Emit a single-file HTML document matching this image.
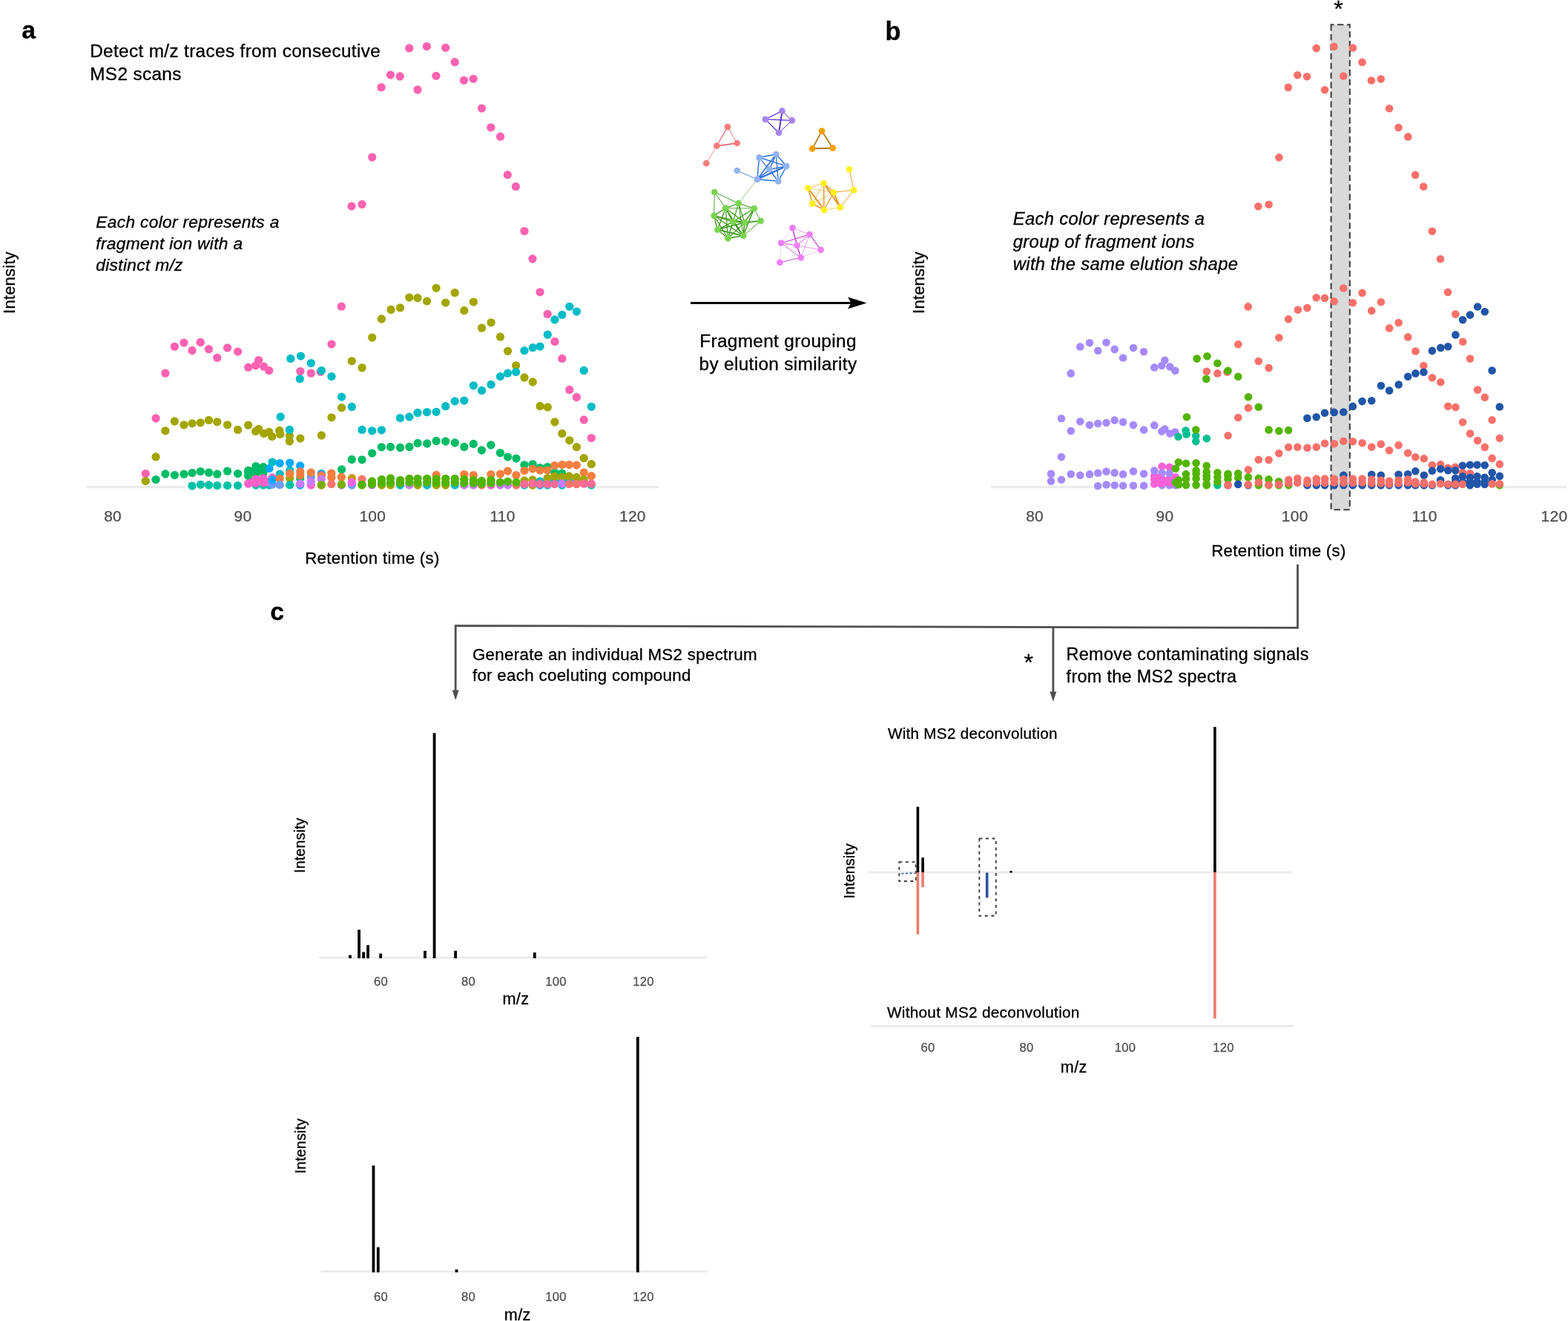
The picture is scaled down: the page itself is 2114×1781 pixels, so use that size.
<!DOCTYPE html>
<html lang="en"><head><meta charset="utf-8"><title>MS2 deconvolution workflow</title>
<style>
html,body{margin:0;padding:0;background:#fff}
body{width:2114px;height:1781px;overflow:hidden}
svg{display:block;font-family:"Liberation Sans",sans-serif}
text{stroke:#000;stroke-width:.32px}
text.t{fill:#4D4D4D;stroke:#4D4D4D;stroke-width:.25px}
</style></head>
<body>
<svg width="2114" height="1781" viewBox="0 0 2114 1781">
<rect width="2114" height="1781" fill="#fff"/>
<g id="panel-a">
<path d="M116 656.7H250M803 656.7H888" stroke="#EBEBEB" stroke-width="3.3" fill="none"/>
<g fill="#FB62B1"><circle cx="196.3" cy="638.6" r="5.65"/><circle cx="210.1" cy="564" r="5.65"/><circle cx="222.9" cy="503.2" r="5.65"/><circle cx="235.4" cy="467.3" r="5.65"/><circle cx="248" cy="462.1" r="5.65"/><circle cx="259.1" cy="472.5" r="5.65"/><circle cx="270.3" cy="461.5" r="5.65"/><circle cx="281.5" cy="470.7" r="5.65"/><circle cx="292.8" cy="482.3" r="5.65"/><circle cx="306.6" cy="468.9" r="5.65"/><circle cx="320.6" cy="474.1" r="5.65"/><circle cx="334.7" cy="495.2" r="5.65"/><circle cx="344.7" cy="492.8" r="5.65"/><circle cx="348.7" cy="485.6" r="5.65"/><circle cx="355.7" cy="494.2" r="5.65"/><circle cx="362.7" cy="499.6" r="5.65"/><circle cx="404.9" cy="500.6" r="5.65"/><circle cx="419.3" cy="503.2" r="5.65"/><circle cx="432.3" cy="501.2" r="5.65"/><circle cx="447" cy="464.1" r="5.65"/><circle cx="460.3" cy="413.2" r="5.65"/><circle cx="474" cy="278.1" r="5.65"/><circle cx="488.1" cy="275.5" r="5.65"/><circle cx="501.8" cy="212" r="5.65"/><circle cx="514.1" cy="117.7" r="5.65"/><circle cx="526.5" cy="101" r="5.65"/><circle cx="539.2" cy="103" r="5.65"/><circle cx="551.8" cy="64.9" r="5.65"/><circle cx="563" cy="121" r="5.65"/><circle cx="575.4" cy="62.6" r="5.65"/><circle cx="588" cy="102.3" r="5.65"/><circle cx="600.7" cy="64.3" r="5.65"/><circle cx="613.2" cy="83.7" r="5.65"/><circle cx="625.5" cy="108.3" r="5.65"/><circle cx="638.2" cy="106.3" r="5.65"/><circle cx="649.5" cy="146.1" r="5.65"/><circle cx="661.9" cy="171.8" r="5.65"/><circle cx="674.6" cy="184.2" r="5.65"/><circle cx="684.3" cy="235.7" r="5.65"/><circle cx="695.4" cy="251.4" r="5.65"/><circle cx="707" cy="311.6" r="5.65"/><circle cx="718" cy="349" r="5.65"/><circle cx="728" cy="393.8" r="5.65"/><circle cx="738.2" cy="423.4" r="5.65"/><circle cx="748" cy="460.5" r="5.65"/><circle cx="757.8" cy="483.4" r="5.65"/><circle cx="767.8" cy="525.4" r="5.65"/><circle cx="777.4" cy="535.5" r="5.65"/><circle cx="787.2" cy="566" r="5.65"/><circle cx="797.3" cy="590.6" r="5.65"/></g><g fill="#A3A500"><circle cx="196.3" cy="648.6" r="5.65"/><circle cx="210.1" cy="615.9" r="5.65"/><circle cx="222.9" cy="580.8" r="5.65"/><circle cx="235.4" cy="568" r="5.65"/><circle cx="248" cy="572.8" r="5.65"/><circle cx="259.1" cy="570.8" r="5.65"/><circle cx="270.3" cy="569.8" r="5.65"/><circle cx="281.5" cy="566.4" r="5.65"/><circle cx="292.8" cy="568.8" r="5.65"/><circle cx="306.6" cy="572.8" r="5.65"/><circle cx="320.6" cy="579.4" r="5.65"/><circle cx="334.7" cy="573.2" r="5.65"/><circle cx="344.7" cy="581.4" r="5.65"/><circle cx="348.7" cy="578.4" r="5.65"/><circle cx="355.7" cy="584.4" r="5.65"/><circle cx="362.7" cy="582.4" r="5.65"/><circle cx="366.8" cy="588.5" r="5.65"/><circle cx="376.8" cy="580.4" r="5.65"/><circle cx="377.8" cy="585.4" r="5.65"/><circle cx="390.4" cy="587.4" r="5.65"/><circle cx="390.4" cy="594.9" r="5.65"/><circle cx="404.9" cy="591.1" r="5.65"/><circle cx="433.4" cy="587" r="5.65"/><circle cx="447" cy="562.8" r="5.65"/><circle cx="460.6" cy="549.7" r="5.65"/><circle cx="474.3" cy="486.8" r="5.65"/><circle cx="488.1" cy="495.8" r="5.65"/><circle cx="501.7" cy="455.1" r="5.65"/><circle cx="514.4" cy="430" r="5.65"/><circle cx="527.1" cy="417.5" r="5.65"/><circle cx="539.5" cy="414.9" r="5.65"/><circle cx="551.8" cy="401.1" r="5.65"/><circle cx="563" cy="401.7" r="5.65"/><circle cx="575.6" cy="406.1" r="5.65"/><circle cx="588.1" cy="388.3" r="5.65"/><circle cx="600.7" cy="408.1" r="5.65"/><circle cx="613.2" cy="394.7" r="5.65"/><circle cx="625.8" cy="418.7" r="5.65"/><circle cx="638.4" cy="407.1" r="5.65"/><circle cx="649.5" cy="442.2" r="5.65"/><circle cx="662.1" cy="434.8" r="5.65"/><circle cx="674.5" cy="454.2" r="5.65"/><circle cx="684.6" cy="473.3" r="5.65"/><circle cx="695.6" cy="492.8" r="5.65"/><circle cx="707" cy="509" r="5.65"/><circle cx="718.3" cy="515" r="5.65"/><circle cx="728.1" cy="547.5" r="5.65"/><circle cx="738.3" cy="548.9" r="5.65"/><circle cx="747.9" cy="569" r="5.65"/><circle cx="757.8" cy="584.4" r="5.65"/><circle cx="767.8" cy="593.8" r="5.65"/><circle cx="777.4" cy="602.7" r="5.65"/><circle cx="787.2" cy="617.7" r="5.65"/><circle cx="797.3" cy="625.7" r="5.65"/></g><g fill="#00BC66"><circle cx="210.1" cy="646.6" r="5.65"/><circle cx="222.9" cy="639" r="5.65"/><circle cx="235.4" cy="640.6" r="5.65"/><circle cx="248" cy="639.2" r="5.65"/><circle cx="259.1" cy="637.6" r="5.65"/><circle cx="270.3" cy="635.6" r="5.65"/><circle cx="281.5" cy="637.2" r="5.65"/><circle cx="292.8" cy="639.2" r="5.65"/><circle cx="306.6" cy="635.2" r="5.65"/><circle cx="320.6" cy="638.6" r="5.65"/><circle cx="460.6" cy="633" r="5.65"/><circle cx="474.3" cy="619.5" r="5.65"/><circle cx="488.1" cy="619.8" r="5.65"/><circle cx="501.7" cy="611.1" r="5.65"/><circle cx="514.4" cy="602.8" r="5.65"/><circle cx="526.5" cy="602.5" r="5.65"/><circle cx="539.6" cy="603.5" r="5.65"/><circle cx="551.9" cy="602.5" r="5.65"/><circle cx="563.1" cy="597.5" r="5.65"/><circle cx="575.7" cy="598" r="5.65"/><circle cx="588.2" cy="594.5" r="5.65"/><circle cx="600.7" cy="595" r="5.65"/><circle cx="613.3" cy="597" r="5.65"/><circle cx="625.8" cy="602.5" r="5.65"/><circle cx="638.3" cy="598.5" r="5.65"/><circle cx="649.4" cy="607" r="5.65"/><circle cx="661.9" cy="600" r="5.65"/><circle cx="674.4" cy="610.6" r="5.65"/><circle cx="684.5" cy="616.1" r="5.65"/><circle cx="696" cy="618.1" r="5.65"/><circle cx="707" cy="626.8" r="5.65"/><circle cx="718.1" cy="625.8" r="5.65"/><circle cx="728.1" cy="630.6" r="5.65"/><circle cx="738.1" cy="629.6" r="5.65"/></g><g fill="#00BCC6"><circle cx="378.2" cy="562" r="5.65"/><circle cx="390.4" cy="579.4" r="5.65"/><circle cx="404.3" cy="510.8" r="5.65"/><circle cx="391.8" cy="483.4" r="5.65"/><circle cx="405.5" cy="480.1" r="5.65"/><circle cx="419.3" cy="489.6" r="5.65"/><circle cx="433.4" cy="499.6" r="5.65"/><circle cx="447" cy="507.6" r="5.65"/><circle cx="460.6" cy="535.1" r="5.65"/><circle cx="474.3" cy="548.5" r="5.65"/><circle cx="488.1" cy="579.4" r="5.65"/><circle cx="501.7" cy="580.8" r="5.65"/><circle cx="514.4" cy="579.8" r="5.65"/><circle cx="539.5" cy="563.6" r="5.65"/><circle cx="551.8" cy="562" r="5.65"/><circle cx="563" cy="556.5" r="5.65"/><circle cx="575.6" cy="555.7" r="5.65"/><circle cx="588.1" cy="555.3" r="5.65"/><circle cx="600.7" cy="547.7" r="5.65"/><circle cx="613.2" cy="540.9" r="5.65"/><circle cx="625.8" cy="540.1" r="5.65"/><circle cx="638.4" cy="519.8" r="5.65"/><circle cx="649.5" cy="526.4" r="5.65"/><circle cx="662.1" cy="518.4" r="5.65"/><circle cx="674.5" cy="507.6" r="5.65"/><circle cx="684.6" cy="503.2" r="5.65"/><circle cx="695.6" cy="501.6" r="5.65"/><circle cx="707" cy="472.7" r="5.65"/><circle cx="718.3" cy="468.7" r="5.65"/><circle cx="728.1" cy="467.1" r="5.65"/><circle cx="738.3" cy="451.2" r="5.65"/><circle cx="747.9" cy="431" r="5.65"/><circle cx="757.8" cy="424.4" r="5.65"/><circle cx="767.8" cy="413.3" r="5.65"/><circle cx="777.4" cy="420.1" r="5.65"/><circle cx="787.2" cy="499.4" r="5.65"/><circle cx="797.3" cy="548.3" r="5.65"/></g><g fill="#00C1A7"><circle cx="259" cy="655.1" r="5.65"/><circle cx="270.4" cy="653.3" r="5.65"/><circle cx="281.5" cy="654" r="5.65"/><circle cx="292.8" cy="654.6" r="5.65"/><circle cx="306.6" cy="654.6" r="5.65"/><circle cx="320.6" cy="654.6" r="5.65"/></g><g fill="#00BC66"><circle cx="334.7" cy="641.5" r="5.65"/><circle cx="334.7" cy="634.3" r="5.65"/><circle cx="334.7" cy="638" r="5.65"/></g><g fill="#FF61C9"><circle cx="334.7" cy="652.2" r="5.65"/></g><g fill="#00C1A7"><circle cx="345" cy="654" r="5.65"/></g><g fill="#00BC66"><circle cx="345" cy="638" r="5.65"/><circle cx="345" cy="633.5" r="5.65"/><circle cx="345" cy="628.6" r="5.65"/><circle cx="340" cy="635.5" r="5.65"/><circle cx="350" cy="634" r="5.65"/></g><g fill="#FF61C9"><circle cx="345" cy="651.5" r="5.65"/><circle cx="345" cy="646" r="5.65"/></g><g fill="#00C1A7"><circle cx="355" cy="654" r="5.65"/></g><g fill="#00BC66"><circle cx="355" cy="629.6" r="5.65"/><circle cx="355" cy="634" r="5.65"/><circle cx="355" cy="638" r="5.65"/></g><g fill="#FF61C9"><circle cx="355" cy="650.5" r="5.65"/><circle cx="355" cy="645" r="5.65"/></g><g fill="#00C1A7"><circle cx="363.1" cy="654" r="5.65"/></g><g fill="#FF61C9"><circle cx="340" cy="650" r="5.65"/><circle cx="350" cy="648" r="5.65"/><circle cx="359" cy="650" r="5.65"/><circle cx="363.1" cy="649.5" r="5.65"/></g><g fill="#06A8FF"><circle cx="363.1" cy="631.6" r="5.65"/></g><g fill="#00BCC6"><circle cx="367.1" cy="623.1" r="5.65"/></g><g fill="#FF61C9"><circle cx="367.1" cy="644" r="5.65"/></g><g fill="#6B9CFF"><circle cx="367.1" cy="653.2" r="5.65"/></g><g fill="#06A8FF"><circle cx="367.1" cy="647" r="5.65"/></g><g fill="#00BCC6"><circle cx="377.2" cy="639.1" r="5.65"/></g><g fill="#06A8FF"><circle cx="377.2" cy="624.6" r="5.65"/></g><g fill="#F37F40"><circle cx="377.2" cy="645.5" r="5.65"/></g><g fill="#6B9CFF"><circle cx="377.2" cy="653.7" r="5.65"/></g><g fill="#06A8FF"><circle cx="390.7" cy="624.1" r="5.65"/></g><g fill="#00BCC6"><circle cx="390.7" cy="634.1" r="5.65"/></g><g fill="#A3A500"><circle cx="390.7" cy="645" r="5.65"/></g><g fill="#F37F40"><circle cx="390.7" cy="638.5" r="5.65"/></g><g fill="#00C1A7"><circle cx="390.7" cy="653.7" r="5.65"/></g><g fill="#06A8FF"><circle cx="404.7" cy="654" r="5.65"/><circle cx="404.7" cy="627.9" r="5.65"/></g><g fill="#00BC66"><circle cx="404.7" cy="645" r="5.65"/></g><g fill="#F37F40"><circle cx="404.7" cy="641" r="5.65"/><circle cx="404.7" cy="636" r="5.65"/></g><g fill="#C77CFF"><circle cx="404.7" cy="652.2" r="5.65"/></g><g fill="#FF61C9"><circle cx="419.3" cy="654" r="5.65"/></g><g fill="#6B9CFF"><circle cx="419.3" cy="643" r="5.65"/></g><g fill="#F37F40"><circle cx="419.3" cy="637.1" r="5.65"/></g><g fill="#C77CFF"><circle cx="419.3" cy="649.2" r="5.65"/></g><g fill="#F37F40"><circle cx="433.3" cy="654" r="5.65"/></g><g fill="#06A8FF"><circle cx="433.3" cy="638.6" r="5.65"/></g><g fill="#F37F40"><circle cx="433.3" cy="641" r="5.65"/></g><g fill="#C77CFF"><circle cx="433.3" cy="646" r="5.65"/></g><g fill="#7CAE00"><circle cx="433.3" cy="653.7" r="5.65"/></g><g fill="#F37F40"><circle cx="446.9" cy="638.1" r="5.65"/><circle cx="446.9" cy="644" r="5.65"/></g><g fill="#F8766D"><circle cx="446.9" cy="652.7" r="5.65"/></g><g fill="#C77CFF"><circle cx="460.4" cy="654" r="5.65"/></g><g fill="#F37F40"><circle cx="460.4" cy="643.2" r="5.65"/></g><g fill="#7CAE00"><circle cx="460.4" cy="653.2" r="5.65"/></g><g fill="#6B9CFF"><circle cx="474.4" cy="654" r="5.65"/></g><g fill="#C99800"><circle cx="474.4" cy="644.7" r="5.65"/></g><g fill="#F564E3"><circle cx="474.4" cy="650.2" r="5.65"/></g><g fill="#A3A500"><circle cx="488" cy="654" r="5.65"/></g><g fill="#F8766D"><circle cx="488" cy="646.2" r="5.65"/></g><g fill="#53B400"><circle cx="488" cy="653.5" r="5.65"/></g><g fill="#C77CFF"><circle cx="501.5" cy="654" r="5.65"/></g><g fill="#53B400"><circle cx="501.5" cy="649" r="5.65"/><circle cx="501.5" cy="652.8" r="5.65"/></g><g fill="#A3A500"><circle cx="514.6" cy="654" r="5.65"/></g><g fill="#53B400"><circle cx="514.6" cy="646.5" r="5.65"/><circle cx="514.6" cy="651.3" r="5.65"/></g><g fill="#A3A500"><circle cx="526.5" cy="654" r="5.65"/></g><g fill="#53B400"><circle cx="526.5" cy="644.8" r="5.65"/><circle cx="526.5" cy="650.8" r="5.65"/></g><g fill="#00BCC6"><circle cx="539.6" cy="654" r="5.65"/></g><g fill="#53B400"><circle cx="539.6" cy="647.3" r="5.65"/><circle cx="539.6" cy="651.3" r="5.65"/></g><g fill="#C77CFF"><circle cx="551.9" cy="654" r="5.65"/></g><g fill="#53B400"><circle cx="551.9" cy="645.3" r="5.65"/><circle cx="551.9" cy="650.3" r="5.65"/></g><g fill="#A3A500"><circle cx="563.1" cy="654" r="5.65"/></g><g fill="#53B400"><circle cx="563.1" cy="645.3" r="5.65"/><circle cx="563.1" cy="650.8" r="5.65"/></g><g fill="#00BCC6"><circle cx="575.7" cy="654" r="5.65"/></g><g fill="#53B400"><circle cx="575.7" cy="645.3" r="5.65"/><circle cx="575.7" cy="650.3" r="5.65"/></g><g fill="#A3A500"><circle cx="588.2" cy="654" r="5.65"/></g><g fill="#F37F40"><circle cx="588.2" cy="640.5" r="5.65"/></g><g fill="#53B400"><circle cx="588.2" cy="645.8" r="5.65"/><circle cx="588.2" cy="650.8" r="5.65"/></g><g fill="#A3A500"><circle cx="600.7" cy="654" r="5.65"/></g><g fill="#53B400"><circle cx="600.7" cy="645.3" r="5.65"/><circle cx="600.7" cy="650.8" r="5.65"/></g><g fill="#00BCC6"><circle cx="613.3" cy="654" r="5.65"/></g><g fill="#53B400"><circle cx="613.3" cy="645.3" r="5.65"/><circle cx="613.3" cy="650.3" r="5.65"/></g><g fill="#C77CFF"><circle cx="625.8" cy="654" r="5.65"/></g><g fill="#F37F40"><circle cx="625.8" cy="639.6" r="5.65"/></g><g fill="#53B400"><circle cx="625.8" cy="646.3" r="5.65"/><circle cx="625.8" cy="651.3" r="5.65"/></g><g fill="#C77CFF"><circle cx="638.3" cy="654" r="5.65"/></g><g fill="#F37F40"><circle cx="638.3" cy="640.6" r="5.65"/></g><g fill="#53B400"><circle cx="638.3" cy="647.3" r="5.65"/><circle cx="638.3" cy="651.3" r="5.65"/></g><g fill="#F8766D"><circle cx="649.4" cy="654" r="5.65"/></g><g fill="#53B400"><circle cx="649.4" cy="648.3" r="5.65"/><circle cx="649.4" cy="652.3" r="5.65"/></g><g fill="#FF61C9"><circle cx="661.9" cy="654" r="5.65"/></g><g fill="#F37F40"><circle cx="661.9" cy="639.6" r="5.65"/></g><g fill="#53B400"><circle cx="661.9" cy="647.3" r="5.65"/><circle cx="661.9" cy="651.3" r="5.65"/></g><g fill="#C77CFF"><circle cx="674.4" cy="654" r="5.65"/></g><g fill="#F37F40"><circle cx="674.4" cy="639.1" r="5.65"/></g><g fill="#53B400"><circle cx="674.4" cy="650.3" r="5.65"/></g><g fill="#C77CFF"><circle cx="684.5" cy="654" r="5.65"/></g><g fill="#F37F40"><circle cx="684.5" cy="635.1" r="5.65"/></g><g fill="#53B400"><circle cx="684.5" cy="649.3" r="5.65"/></g><g fill="#F8766D"><circle cx="696" cy="654" r="5.65"/></g><g fill="#F37F40"><circle cx="696" cy="640.6" r="5.65"/></g><g fill="#53B400"><circle cx="696" cy="650.3" r="5.65"/></g><g fill="#00BCC6"><circle cx="707" cy="654" r="5.65"/></g><g fill="#F37F40"><circle cx="707" cy="634.6" r="5.65"/></g><g fill="#A3A500"><circle cx="707" cy="648" r="5.65"/></g><g fill="#FF6A98"><circle cx="707" cy="652.7" r="5.65"/></g><g fill="#A3A500"><circle cx="718.1" cy="654" r="5.65"/></g><g fill="#F37F40"><circle cx="718.1" cy="632.1" r="5.65"/></g><g fill="#A3A500"><circle cx="718.1" cy="647" r="5.65"/></g><g fill="#FF6A98"><circle cx="718.1" cy="652" r="5.65"/></g><g fill="#06A8FF"><circle cx="728.1" cy="654" r="5.65"/></g><g fill="#F37F40"><circle cx="728.1" cy="634.1" r="5.65"/></g><g fill="#00BCC6"><circle cx="728.1" cy="649" r="5.65"/></g><g fill="#FF6A98"><circle cx="728.1" cy="652.5" r="5.65"/></g><g fill="#00BCC6"><circle cx="738.1" cy="654" r="5.65"/></g><g fill="#F37F40"><circle cx="738.1" cy="634.1" r="5.65"/></g><g fill="#00BCC6"><circle cx="738.1" cy="649.5" r="5.65"/></g><g fill="#A3A500"><circle cx="738.1" cy="644.7" r="5.65"/></g><g fill="#FF6A98"><circle cx="738.1" cy="652.7" r="5.65"/></g><g fill="#00BC66"><circle cx="747.7" cy="637.1" r="5.65"/></g><g fill="#F37F40"><circle cx="747.7" cy="627.6" r="5.65"/></g><g fill="#00BCC6"><circle cx="747.7" cy="649.5" r="5.65"/></g><g fill="#A3A500"><circle cx="747.7" cy="642.2" r="5.65"/></g><g fill="#FF6A98"><circle cx="747.7" cy="652.7" r="5.65"/></g><g fill="#00BCC6"><circle cx="757.7" cy="654" r="5.65"/></g><g fill="#00BC66"><circle cx="757.7" cy="638.1" r="5.65"/></g><g fill="#F37F40"><circle cx="757.7" cy="626.6" r="5.65"/></g><g fill="#00BCC6"><circle cx="757.7" cy="649.5" r="5.65"/></g><g fill="#A3A500"><circle cx="757.7" cy="643.5" r="5.65"/></g><g fill="#C77CFF"><circle cx="757.7" cy="652" r="5.65"/></g><g fill="#F37F40"><circle cx="767.2" cy="626.6" r="5.65"/></g><g fill="#00BCC6"><circle cx="767.2" cy="649.5" r="5.65"/></g><g fill="#A3A500"><circle cx="767.2" cy="642" r="5.65"/></g><g fill="#F8766D"><circle cx="767.2" cy="652.5" r="5.65"/></g><g fill="#F37F40"><circle cx="777.3" cy="627.1" r="5.65"/></g><g fill="#C77CFF"><circle cx="777.3" cy="649.5" r="5.65"/></g><g fill="#A3A500"><circle cx="777.3" cy="643.5" r="5.65"/></g><g fill="#F8766D"><circle cx="777.3" cy="652.7" r="5.65"/></g><g fill="#F37F40"><circle cx="787.3" cy="637.1" r="5.65"/></g><g fill="#A3A500"><circle cx="787.3" cy="646.5" r="5.65"/></g><g fill="#FF6A98"><circle cx="787.3" cy="652.2" r="5.65"/></g><g fill="#00C1A7"><circle cx="797.3" cy="654" r="5.65"/></g><g fill="#F37F40"><circle cx="797.3" cy="641.7" r="5.65"/></g><g fill="#FF6A98"><circle cx="797.3" cy="652.2" r="5.65"/></g>
<text x="29.3" y="51.8" font-size="33.73" font-weight="bold">a</text>
<text x="121.2" y="77.2" font-size="24.38" letter-spacing="0.33">Detect m/z traces from consecutive</text>
<text x="121.2" y="107.7" font-size="24.38" letter-spacing="0.33">MS2 scans</text>
<text x="129.3" y="306.5" font-size="22.77" font-style="italic" letter-spacing="0.30">Each color represents a</text>
<text x="129.3" y="335.6" font-size="22.77" font-style="italic" letter-spacing="0.30">fragment ion with a</text>
<text x="129.3" y="364.7" font-size="22.77" font-style="italic" letter-spacing="0.30">distinct m/z</text>
<text transform="translate(20 381) rotate(-90)" font-size="21.84" text-anchor="middle" letter-spacing="0.29">Intensity</text>
<text x="152.1" y="703.3" font-size="20.96" text-anchor="middle" class="t" letter-spacing="0.28">80</text>
<text x="327.4" y="703.3" font-size="20.96" text-anchor="middle" class="t" letter-spacing="0.28">90</text>
<text x="502.3" y="703.3" font-size="20.96" text-anchor="middle" class="t" letter-spacing="0.28">100</text>
<text x="677.6" y="703.3" font-size="20.96" text-anchor="middle" class="t" letter-spacing="0.28">110</text>
<text x="852.9" y="703.3" font-size="20.96" text-anchor="middle" class="t" letter-spacing="0.28">120</text>
<text x="502" y="759.5" font-size="22.33" text-anchor="middle" letter-spacing="0.30">Retention time (s)</text>
</g>
<g id="network"><line x1="1020.9" y1="241.8" x2="995.7" y2="274.2" stroke="#8DBD6A" stroke-width="0.9"/><g stroke="#E0525E" stroke-linecap="round"><line x1="981.0" y1="171.2" x2="966.3" y2="196.7" stroke-width="1.1"/><line x1="981.0" y1="171.2" x2="993.7" y2="193.0" stroke-width="0.8"/><line x1="966.3" y1="196.7" x2="993.7" y2="193.0" stroke-width="1.6"/><line x1="966.3" y1="196.7" x2="952.2" y2="220.2" stroke-width="0.8" stroke-opacity="0.8"/></g><g fill="#F87C7C"><circle cx="981.0" cy="171.2" r="4.35"/><circle cx="966.3" cy="196.7" r="4.35"/><circle cx="993.7" cy="193.0" r="4.35"/><circle cx="952.2" cy="220.2" r="4.35"/></g><g stroke="#5A30D0" stroke-linecap="round"><line x1="1054.5" y1="149.5" x2="1031.8" y2="160.9" stroke-width="1.3"/><line x1="1054.5" y1="149.5" x2="1067.8" y2="162.4" stroke-width="1.0"/><line x1="1054.5" y1="149.5" x2="1050.1" y2="179.0" stroke-width="1.9"/><line x1="1031.8" y1="160.9" x2="1067.8" y2="162.4" stroke-width="1.2"/><line x1="1031.8" y1="160.9" x2="1050.1" y2="179.0" stroke-width="1.3"/><line x1="1067.8" y1="162.4" x2="1050.1" y2="179.0" stroke-width="1.0"/></g><g fill="#A886F0"><circle cx="1054.5" cy="149.5" r="4.35"/><circle cx="1031.8" cy="160.9" r="4.35"/><circle cx="1067.8" cy="162.4" r="4.35"/><circle cx="1050.1" cy="179.0" r="4.35"/></g><g stroke="#B07A18" stroke-linecap="round"><line x1="1108.0" y1="176.7" x2="1095.3" y2="200.3" stroke-width="1.7"/><line x1="1108.0" y1="176.7" x2="1122.8" y2="199.7" stroke-width="1.7"/><line x1="1095.3" y1="200.3" x2="1122.8" y2="199.7" stroke-width="2.0"/></g><g fill="#F5A008"><circle cx="1108.0" cy="176.7" r="4.35"/><circle cx="1095.3" cy="200.3" r="4.35"/><circle cx="1122.8" cy="199.7" r="4.35"/></g><g stroke="#2F70D8" stroke-linecap="round"><line x1="1023.6" y1="212.3" x2="1046.3" y2="208.0" stroke-width="1.6"/><line x1="1023.6" y1="212.3" x2="1060.3" y2="224.1" stroke-width="1.5"/><line x1="1023.6" y1="212.3" x2="1020.9" y2="241.8" stroke-width="1.5"/><line x1="1023.6" y1="212.3" x2="1049.3" y2="244.3" stroke-width="1.2"/><line x1="1046.3" y1="208.0" x2="1060.3" y2="224.1" stroke-width="1.5"/><line x1="1046.3" y1="208.0" x2="1037.5" y2="228.4" stroke-width="1.5"/><line x1="1046.3" y1="208.0" x2="1020.9" y2="241.8" stroke-width="1.6"/><line x1="1046.3" y1="208.0" x2="1049.3" y2="244.3" stroke-width="1.3"/><line x1="1060.3" y1="224.1" x2="1037.5" y2="228.4" stroke-width="1.5"/><line x1="1060.3" y1="224.1" x2="1020.9" y2="241.8" stroke-width="2.2"/><line x1="1060.3" y1="224.1" x2="1049.3" y2="244.3" stroke-width="1.4"/><line x1="1037.5" y1="228.4" x2="1020.9" y2="241.8" stroke-width="1.5"/><line x1="1037.5" y1="228.4" x2="1049.3" y2="244.3" stroke-width="1.0"/><line x1="1020.9" y1="241.8" x2="1049.3" y2="244.3" stroke-width="1.5"/><line x1="993.7" y1="230.0" x2="1020.9" y2="241.8" stroke-width="0.9" stroke-opacity="0.9"/></g><g fill="#92B4F4"><circle cx="1023.6" cy="212.3" r="4.35"/><circle cx="1046.3" cy="208.0" r="4.35"/><circle cx="1060.3" cy="224.1" r="4.35"/><circle cx="1037.5" cy="228.4" r="4.35"/><circle cx="1020.9" cy="241.8" r="4.35"/><circle cx="1049.3" cy="244.3" r="4.35"/><circle cx="993.7" cy="230.0" r="4.35"/></g><g stroke="#3D9A1E" stroke-linecap="round"><line x1="963.3" y1="259.0" x2="995.7" y2="274.2" stroke-width="1.0"/><line x1="963.3" y1="259.0" x2="978.3" y2="280.6" stroke-width="1.0"/><line x1="963.3" y1="259.0" x2="962.7" y2="290.8" stroke-width="0.9"/><line x1="995.7" y1="274.2" x2="978.3" y2="280.6" stroke-width="1.2"/><line x1="995.7" y1="274.2" x2="1016.7" y2="281.0" stroke-width="1.2"/><line x1="995.7" y1="274.2" x2="988.2" y2="299.1" stroke-width="1.2"/><line x1="995.7" y1="274.2" x2="1003.9" y2="300.1" stroke-width="1.2"/><line x1="995.7" y1="274.2" x2="1002.1" y2="317.8" stroke-width="1.0"/><line x1="978.3" y1="280.6" x2="962.7" y2="290.8" stroke-width="1.3"/><line x1="978.3" y1="280.6" x2="988.2" y2="299.1" stroke-width="1.5"/><line x1="978.3" y1="280.6" x2="1003.9" y2="300.1" stroke-width="1.3"/><line x1="978.3" y1="280.6" x2="967.4" y2="309.6" stroke-width="1.3"/><line x1="978.3" y1="280.6" x2="981.4" y2="321.2" stroke-width="1.2"/><line x1="978.3" y1="280.6" x2="1002.1" y2="317.8" stroke-width="1.3"/><line x1="978.3" y1="280.6" x2="1016.7" y2="281.0" stroke-width="0.8"/><line x1="1016.7" y1="281.0" x2="988.2" y2="299.1" stroke-width="1.2"/><line x1="1016.7" y1="281.0" x2="1003.9" y2="300.1" stroke-width="1.4"/><line x1="1016.7" y1="281.0" x2="1025.6" y2="297.8" stroke-width="0.9"/><line x1="1016.7" y1="281.0" x2="1002.1" y2="317.8" stroke-width="1.5"/><line x1="962.7" y1="290.8" x2="988.2" y2="299.1" stroke-width="1.4"/><line x1="962.7" y1="290.8" x2="1003.9" y2="300.1" stroke-width="1.2"/><line x1="962.7" y1="290.8" x2="967.4" y2="309.6" stroke-width="1.4"/><line x1="962.7" y1="290.8" x2="981.4" y2="321.2" stroke-width="1.2"/><line x1="962.7" y1="290.8" x2="1002.1" y2="317.8" stroke-width="1.3"/><line x1="988.2" y1="299.1" x2="1003.9" y2="300.1" stroke-width="1.5"/><line x1="988.2" y1="299.1" x2="967.4" y2="309.6" stroke-width="1.6"/><line x1="988.2" y1="299.1" x2="981.4" y2="321.2" stroke-width="1.4"/><line x1="988.2" y1="299.1" x2="1002.1" y2="317.8" stroke-width="1.6"/><line x1="1003.9" y1="300.1" x2="1025.6" y2="297.8" stroke-width="1.7"/><line x1="1003.9" y1="300.1" x2="967.4" y2="309.6" stroke-width="1.5"/><line x1="1003.9" y1="300.1" x2="981.4" y2="321.2" stroke-width="1.3"/><line x1="1003.9" y1="300.1" x2="1002.1" y2="317.8" stroke-width="1.7"/><line x1="1025.6" y1="297.8" x2="1002.1" y2="317.8" stroke-width="1.0"/><line x1="967.4" y1="309.6" x2="981.4" y2="321.2" stroke-width="1.3"/><line x1="967.4" y1="309.6" x2="1002.1" y2="317.8" stroke-width="1.8"/><line x1="981.4" y1="321.2" x2="1002.1" y2="317.8" stroke-width="1.4"/></g><g fill="#7AD44E"><circle cx="963.3" cy="259.0" r="4.35"/><circle cx="995.7" cy="274.2" r="4.35"/><circle cx="978.3" cy="280.6" r="4.35"/><circle cx="1016.7" cy="281.0" r="4.35"/><circle cx="962.7" cy="290.8" r="4.35"/><circle cx="988.2" cy="299.1" r="4.35"/><circle cx="1003.9" cy="300.1" r="4.35"/><circle cx="1025.6" cy="297.8" r="4.35"/><circle cx="967.4" cy="309.6" r="4.35"/><circle cx="981.4" cy="321.2" r="4.35"/><circle cx="1002.1" cy="317.8" r="4.35"/></g><g stroke="#E39A28" stroke-linecap="round"><line x1="1145.0" y1="228.2" x2="1151.1" y2="256.3" stroke-width="1.0"/><line x1="1151.1" y1="256.3" x2="1123.9" y2="259.3" stroke-width="1.0"/><line x1="1151.1" y1="256.3" x2="1132.7" y2="279.7" stroke-width="1.0"/><line x1="1110.5" y1="247.0" x2="1089.5" y2="253.5" stroke-width="0.9" stroke-opacity="0.8"/><line x1="1110.5" y1="247.0" x2="1123.9" y2="259.3" stroke-width="1.6"/><line x1="1110.5" y1="247.0" x2="1095.3" y2="274.5" stroke-width="0.9" stroke-opacity="0.8"/><line x1="1110.5" y1="247.0" x2="1111.0" y2="283.1" stroke-width="1.5"/><line x1="1110.5" y1="247.0" x2="1132.7" y2="279.7" stroke-width="2.0"/><line x1="1089.5" y1="253.5" x2="1123.9" y2="259.3" stroke-width="0.8" stroke-opacity="0.7"/><line x1="1089.5" y1="253.5" x2="1095.3" y2="274.5" stroke-width="1.5"/><line x1="1089.5" y1="253.5" x2="1111.0" y2="283.1" stroke-width="2.0"/><line x1="1123.9" y1="259.3" x2="1095.3" y2="274.5" stroke-width="0.8" stroke-opacity="0.8"/><line x1="1123.9" y1="259.3" x2="1111.0" y2="283.1" stroke-width="1.3"/><line x1="1123.9" y1="259.3" x2="1132.7" y2="279.7" stroke-width="2.0"/><line x1="1095.3" y1="274.5" x2="1111.0" y2="283.1" stroke-width="1.5"/><line x1="1111.0" y1="283.1" x2="1132.7" y2="279.7" stroke-width="0.8" stroke-opacity="0.7"/></g><g fill="#FFF01E"><circle cx="1145.0" cy="228.2" r="4.35"/><circle cx="1151.1" cy="256.3" r="4.35"/><circle cx="1110.5" cy="247.0" r="4.35"/><circle cx="1089.5" cy="253.5" r="4.35"/><circle cx="1123.9" cy="259.3" r="4.35"/><circle cx="1095.3" cy="274.5" r="4.35"/><circle cx="1111.0" cy="283.1" r="4.35"/><circle cx="1132.7" cy="279.7" r="4.35"/></g><g stroke="#C552CF" stroke-linecap="round"><line x1="1068.4" y1="307.3" x2="1091.6" y2="316.1" stroke-width="0.7" stroke-opacity="0.8"/><line x1="1068.4" y1="307.3" x2="1074.6" y2="331.0" stroke-width="1.6"/><line x1="1068.4" y1="307.3" x2="1053.1" y2="327.7" stroke-width="0.5" stroke-opacity="0.5"/><line x1="1091.6" y1="316.1" x2="1053.1" y2="327.7" stroke-width="1.1"/><line x1="1091.6" y1="316.1" x2="1074.6" y2="331.0" stroke-width="1.0"/><line x1="1091.6" y1="316.1" x2="1106.6" y2="336.8" stroke-width="1.3"/><line x1="1091.6" y1="316.1" x2="1079.7" y2="347.3" stroke-width="0.7" stroke-opacity="0.8"/><line x1="1053.1" y1="327.7" x2="1074.6" y2="331.0" stroke-width="1.1"/><line x1="1053.1" y1="327.7" x2="1079.7" y2="347.3" stroke-width="0.9"/><line x1="1053.1" y1="327.7" x2="1051.4" y2="353.8" stroke-width="0.5" stroke-opacity="0.5"/><line x1="1074.6" y1="331.0" x2="1106.6" y2="336.8" stroke-width="0.7" stroke-opacity="0.8"/><line x1="1074.6" y1="331.0" x2="1079.7" y2="347.3" stroke-width="1.7"/><line x1="1106.6" y1="336.8" x2="1079.7" y2="347.3" stroke-width="0.6" stroke-opacity="0.6"/><line x1="1079.7" y1="347.3" x2="1051.4" y2="353.8" stroke-width="1.0"/></g><g fill="#F07FF5"><circle cx="1068.4" cy="307.3" r="4.35"/><circle cx="1091.6" cy="316.1" r="4.35"/><circle cx="1053.1" cy="327.7" r="4.35"/><circle cx="1074.6" cy="331.0" r="4.35"/><circle cx="1106.6" cy="336.8" r="4.35"/><circle cx="1079.7" cy="347.3" r="4.35"/><circle cx="1051.4" cy="353.8" r="4.35"/></g></g>
<g id="arrow"><line x1="931" y1="408.5" x2="1150" y2="408.5" stroke="#000" stroke-width="3"/><path d="M1168.5 408.5 L1143 400.6 L1147.5 408.5 L1143 416.4 Z" fill="#000"/></g>
<text x="1049" y="468" font-size="24.38" text-anchor="middle" letter-spacing="0.33">Fragment grouping</text>
<text x="1049" y="498.5" font-size="24.38" text-anchor="middle" letter-spacing="0.33">by elution similarity</text>
<g id="panel-b">
<path d="M1336 656.7H1472M2027.5 656.7H2112.5" stroke="#EBEBEB" stroke-width="3.3" fill="none"/>
<path d="M1794.6 33.2 V687.2 H1819.8 V33.2 Z" fill="#D9D9D9" stroke="#404040" stroke-width="2.1" stroke-dasharray="8.4 4.5"/>
<g fill="#A58AFF"><circle cx="1417" cy="638.8" r="5.3"/><circle cx="1430.9" cy="564.2" r="5.3"/><circle cx="1443.8" cy="503.4" r="5.3"/><circle cx="1456.3" cy="467.5" r="5.3"/><circle cx="1469" cy="462.3" r="5.3"/><circle cx="1480.2" cy="472.7" r="5.3"/><circle cx="1491.5" cy="461.7" r="5.3"/><circle cx="1502.7" cy="470.9" r="5.3"/><circle cx="1514.1" cy="482.5" r="5.3"/><circle cx="1528" cy="469.1" r="5.3"/><circle cx="1542.1" cy="474.3" r="5.3"/><circle cx="1556.3" cy="495.4" r="5.3"/><circle cx="1566.3" cy="493" r="5.3"/><circle cx="1570.4" cy="485.8" r="5.3"/><circle cx="1577.4" cy="494.4" r="5.3"/><circle cx="1584.4" cy="499.8" r="5.3"/></g><g fill="#F9706A"><circle cx="1626.9" cy="500.8" r="5.3"/><circle cx="1641.4" cy="503.4" r="5.3"/><circle cx="1654.5" cy="501.4" r="5.3"/><circle cx="1669.3" cy="464.3" r="5.3"/><circle cx="1682.7" cy="413.4" r="5.3"/><circle cx="1696.4" cy="278.3" r="5.3"/><circle cx="1710.6" cy="275.7" r="5.3"/><circle cx="1724.4" cy="212.2" r="5.3"/><circle cx="1736.8" cy="117.9" r="5.3"/><circle cx="1749.3" cy="101.2" r="5.3"/><circle cx="1762.1" cy="103.2" r="5.3"/><circle cx="1774.7" cy="65.1" r="5.3"/><circle cx="1786" cy="121.2" r="5.3"/><circle cx="1798.5" cy="62.8" r="5.3"/><circle cx="1811.2" cy="102.5" r="5.3"/><circle cx="1823.9" cy="64.5" r="5.3"/><circle cx="1836.5" cy="83.9" r="5.3"/><circle cx="1848.9" cy="108.5" r="5.3"/><circle cx="1861.7" cy="106.5" r="5.3"/><circle cx="1873.1" cy="146.3" r="5.3"/><circle cx="1885.5" cy="172" r="5.3"/><circle cx="1898.3" cy="184.4" r="5.3"/><circle cx="1908.1" cy="235.9" r="5.3"/><circle cx="1919.2" cy="251.6" r="5.3"/><circle cx="1930.9" cy="311.8" r="5.3"/><circle cx="1942" cy="349.2" r="5.3"/><circle cx="1952" cy="394" r="5.3"/><circle cx="1962.3" cy="423.6" r="5.3"/><circle cx="1972.2" cy="460.7" r="5.3"/><circle cx="1982" cy="483.6" r="5.3"/><circle cx="1992.1" cy="525.6" r="5.3"/><circle cx="2001.8" cy="535.7" r="5.3"/><circle cx="2011.6" cy="566.2" r="5.3"/><circle cx="2021.8" cy="590.8" r="5.3"/></g><g fill="#A58AFF"><circle cx="1417" cy="648.8" r="5.3"/><circle cx="1430.9" cy="616.1" r="5.3"/><circle cx="1443.8" cy="581" r="5.3"/><circle cx="1456.3" cy="568.2" r="5.3"/><circle cx="1469" cy="573" r="5.3"/><circle cx="1480.2" cy="571" r="5.3"/><circle cx="1491.5" cy="570" r="5.3"/><circle cx="1502.7" cy="566.6" r="5.3"/><circle cx="1514.1" cy="569" r="5.3"/><circle cx="1528" cy="573" r="5.3"/><circle cx="1542.1" cy="579.6" r="5.3"/><circle cx="1556.3" cy="573.4" r="5.3"/><circle cx="1566.3" cy="581.6" r="5.3"/><circle cx="1570.4" cy="578.6" r="5.3"/><circle cx="1577.4" cy="584.6" r="5.3"/><circle cx="1584.4" cy="582.6" r="5.3"/></g><g fill="#00C094"><circle cx="1588.6" cy="588.7" r="5.3"/><circle cx="1598.6" cy="580.6" r="5.3"/><circle cx="1599.6" cy="585.6" r="5.3"/><circle cx="1612.3" cy="587.6" r="5.3"/><circle cx="1612.3" cy="595.1" r="5.3"/><circle cx="1626.9" cy="591.3" r="5.3"/></g><g fill="#F9706A"><circle cx="1655.6" cy="587.2" r="5.3"/><circle cx="1669.3" cy="563" r="5.3"/><circle cx="1683" cy="549.9" r="5.3"/><circle cx="1696.8" cy="487" r="5.3"/><circle cx="1710.6" cy="496" r="5.3"/><circle cx="1724.3" cy="455.3" r="5.3"/><circle cx="1737.1" cy="430.2" r="5.3"/><circle cx="1749.9" cy="417.7" r="5.3"/><circle cx="1762.4" cy="415.1" r="5.3"/><circle cx="1774.7" cy="401.3" r="5.3"/><circle cx="1786" cy="401.9" r="5.3"/><circle cx="1798.7" cy="406.3" r="5.3"/><circle cx="1811.3" cy="388.5" r="5.3"/><circle cx="1823.9" cy="408.3" r="5.3"/><circle cx="1836.5" cy="394.9" r="5.3"/><circle cx="1849.2" cy="418.9" r="5.3"/><circle cx="1861.9" cy="407.3" r="5.3"/><circle cx="1873.1" cy="442.4" r="5.3"/><circle cx="1885.7" cy="435" r="5.3"/><circle cx="1898.2" cy="454.4" r="5.3"/><circle cx="1908.4" cy="473.5" r="5.3"/><circle cx="1919.4" cy="493" r="5.3"/><circle cx="1930.9" cy="509.2" r="5.3"/><circle cx="1942.3" cy="515.2" r="5.3"/><circle cx="1952.2" cy="547.7" r="5.3"/><circle cx="1962.4" cy="549.1" r="5.3"/><circle cx="1972.1" cy="569.2" r="5.3"/><circle cx="1982" cy="584.6" r="5.3"/><circle cx="1992.1" cy="594" r="5.3"/><circle cx="2001.8" cy="602.9" r="5.3"/><circle cx="2011.6" cy="617.9" r="5.3"/><circle cx="2021.8" cy="625.9" r="5.3"/></g><g fill="#A58AFF"><circle cx="1430.9" cy="646.8" r="5.3"/><circle cx="1443.8" cy="639.2" r="5.3"/><circle cx="1456.3" cy="640.8" r="5.3"/><circle cx="1469" cy="639.4" r="5.3"/><circle cx="1480.2" cy="637.8" r="5.3"/><circle cx="1491.5" cy="635.8" r="5.3"/><circle cx="1502.7" cy="637.4" r="5.3"/><circle cx="1514.1" cy="639.4" r="5.3"/><circle cx="1528" cy="635.4" r="5.3"/><circle cx="1542.1" cy="638.8" r="5.3"/></g><g fill="#F9706A"><circle cx="1683" cy="633.2" r="5.3"/><circle cx="1696.8" cy="619.7" r="5.3"/><circle cx="1710.6" cy="620" r="5.3"/><circle cx="1724.3" cy="611.3" r="5.3"/><circle cx="1737.1" cy="603" r="5.3"/><circle cx="1749.3" cy="602.7" r="5.3"/><circle cx="1762.5" cy="603.7" r="5.3"/><circle cx="1774.8" cy="602.7" r="5.3"/><circle cx="1786.1" cy="597.7" r="5.3"/><circle cx="1798.8" cy="598.2" r="5.3"/><circle cx="1811.4" cy="594.7" r="5.3"/><circle cx="1823.9" cy="595.2" r="5.3"/><circle cx="1836.6" cy="597.2" r="5.3"/><circle cx="1849.2" cy="602.7" r="5.3"/><circle cx="1861.8" cy="598.7" r="5.3"/><circle cx="1873" cy="607.2" r="5.3"/><circle cx="1885.5" cy="600.2" r="5.3"/><circle cx="1898.1" cy="610.8" r="5.3"/><circle cx="1908.3" cy="616.3" r="5.3"/><circle cx="1919.8" cy="618.3" r="5.3"/><circle cx="1930.9" cy="627" r="5.3"/><circle cx="1942.1" cy="626" r="5.3"/><circle cx="1952.2" cy="630.8" r="5.3"/><circle cx="1962.2" cy="629.8" r="5.3"/></g><g fill="#53B400"><circle cx="1600" cy="562.2" r="5.3"/><circle cx="1612.3" cy="579.6" r="5.3"/><circle cx="1626.3" cy="511" r="5.3"/><circle cx="1613.7" cy="483.6" r="5.3"/><circle cx="1627.5" cy="480.3" r="5.3"/><circle cx="1641.4" cy="489.8" r="5.3"/><circle cx="1655.6" cy="499.8" r="5.3"/><circle cx="1669.3" cy="507.8" r="5.3"/><circle cx="1683" cy="535.3" r="5.3"/><circle cx="1696.8" cy="548.7" r="5.3"/><circle cx="1710.6" cy="579.6" r="5.3"/><circle cx="1724.3" cy="581" r="5.3"/><circle cx="1737.1" cy="580" r="5.3"/></g><g fill="#2055A8"><circle cx="1762.4" cy="563.8" r="5.3"/><circle cx="1774.7" cy="562.2" r="5.3"/><circle cx="1786" cy="556.7" r="5.3"/><circle cx="1798.7" cy="555.9" r="5.3"/><circle cx="1811.3" cy="555.5" r="5.3"/><circle cx="1823.9" cy="547.9" r="5.3"/><circle cx="1836.5" cy="541.1" r="5.3"/><circle cx="1849.2" cy="540.3" r="5.3"/><circle cx="1861.9" cy="520" r="5.3"/><circle cx="1873.1" cy="526.6" r="5.3"/><circle cx="1885.7" cy="518.6" r="5.3"/><circle cx="1898.2" cy="507.8" r="5.3"/><circle cx="1908.4" cy="503.4" r="5.3"/><circle cx="1919.4" cy="501.8" r="5.3"/><circle cx="1930.9" cy="472.9" r="5.3"/><circle cx="1942.3" cy="468.9" r="5.3"/><circle cx="1952.2" cy="467.3" r="5.3"/><circle cx="1962.4" cy="451.4" r="5.3"/><circle cx="1972.1" cy="431.2" r="5.3"/><circle cx="1982" cy="424.6" r="5.3"/><circle cx="1992.1" cy="413.5" r="5.3"/><circle cx="2001.8" cy="420.3" r="5.3"/><circle cx="2011.6" cy="499.6" r="5.3"/><circle cx="2021.8" cy="548.5" r="5.3"/></g><g fill="#A58AFF"><circle cx="1480.1" cy="655.3" r="5.3"/><circle cx="1491.6" cy="653.5" r="5.3"/><circle cx="1502.7" cy="654.2" r="5.3"/><circle cx="1514.1" cy="654.8" r="5.3"/><circle cx="1528" cy="654.8" r="5.3"/><circle cx="1542.1" cy="654.8" r="5.3"/></g><g fill="#FB61D7"><circle cx="1556.3" cy="641.7" r="5.3"/><circle cx="1556.3" cy="652.4" r="5.3"/><circle cx="1556.3" cy="646.2" r="5.3"/></g><g fill="#A58AFF"><circle cx="1556.3" cy="634.5" r="5.3"/><circle cx="1566.6" cy="654.2" r="5.3"/></g><g fill="#FB61D7"><circle cx="1566.6" cy="628.8" r="5.3"/><circle cx="1566.6" cy="651.7" r="5.3"/><circle cx="1566.6" cy="646.2" r="5.3"/></g><g fill="#A58AFF"><circle cx="1566.6" cy="637.7" r="5.3"/><circle cx="1576.7" cy="654.2" r="5.3"/></g><g fill="#FB61D7"><circle cx="1576.7" cy="629.8" r="5.3"/><circle cx="1576.7" cy="650.7" r="5.3"/><circle cx="1576.7" cy="645.2" r="5.3"/></g><g fill="#A58AFF"><circle cx="1576.7" cy="638.2" r="5.3"/><circle cx="1584.9" cy="654.2" r="5.3"/></g><g fill="#FB61D7"><circle cx="1561.6" cy="650.2" r="5.3"/><circle cx="1571.7" cy="648.2" r="5.3"/><circle cx="1580.7" cy="650.2" r="5.3"/><circle cx="1561.6" cy="644.2" r="5.3"/><circle cx="1584.9" cy="649.7" r="5.3"/><circle cx="1584.9" cy="643.2" r="5.3"/></g><g fill="#53B400"><circle cx="1584.9" cy="631.8" r="5.3"/><circle cx="1584.9" cy="650.2" r="5.3"/><circle cx="1588.9" cy="623.3" r="5.3"/><circle cx="1588.9" cy="653.4" r="5.3"/><circle cx="1588.9" cy="647.2" r="5.3"/><circle cx="1599" cy="639.3" r="5.3"/><circle cx="1599" cy="624.8" r="5.3"/><circle cx="1599" cy="645.7" r="5.3"/><circle cx="1599" cy="653.9" r="5.3"/><circle cx="1612.6" cy="624.3" r="5.3"/><circle cx="1612.6" cy="634.3" r="5.3"/><circle cx="1612.6" cy="645.2" r="5.3"/><circle cx="1612.6" cy="638.7" r="5.3"/><circle cx="1612.6" cy="653.9" r="5.3"/><circle cx="1626.7" cy="654.2" r="5.3"/><circle cx="1626.7" cy="628.1" r="5.3"/><circle cx="1626.7" cy="645.2" r="5.3"/><circle cx="1626.7" cy="641.2" r="5.3"/><circle cx="1626.7" cy="636.2" r="5.3"/><circle cx="1626.7" cy="652.4" r="5.3"/></g><g fill="#00C094"><circle cx="1641.4" cy="654.2" r="5.3"/></g><g fill="#53B400"><circle cx="1641.4" cy="643.2" r="5.3"/><circle cx="1641.4" cy="637.3" r="5.3"/><circle cx="1641.4" cy="649.4" r="5.3"/></g><g fill="#2055A8"><circle cx="1655.5" cy="654.2" r="5.3"/></g><g fill="#53B400"><circle cx="1655.5" cy="638.8" r="5.3"/><circle cx="1655.5" cy="641.2" r="5.3"/><circle cx="1655.5" cy="646.2" r="5.3"/></g><g fill="#F9706A"><circle cx="1655.5" cy="653.9" r="5.3"/></g><g fill="#53B400"><circle cx="1669.2" cy="638.3" r="5.3"/><circle cx="1669.2" cy="644.2" r="5.3"/></g><g fill="#2055A8"><circle cx="1669.2" cy="652.9" r="5.3"/><circle cx="1682.8" cy="654.2" r="5.3"/></g><g fill="#53B400"><circle cx="1682.8" cy="643.4" r="5.3"/></g><g fill="#F9706A"><circle cx="1682.8" cy="653.4" r="5.3"/></g><g fill="#53B400"><circle cx="1696.9" cy="654.2" r="5.3"/><circle cx="1696.9" cy="644.9" r="5.3"/></g><g fill="#F9706A"><circle cx="1696.9" cy="650.4" r="5.3"/></g><g fill="#53B400"><circle cx="1710.5" cy="654.2" r="5.3"/><circle cx="1710.5" cy="646.4" r="5.3"/></g><g fill="#F9706A"><circle cx="1710.5" cy="653.7" r="5.3"/></g><g fill="#53B400"><circle cx="1724.1" cy="654.2" r="5.3"/><circle cx="1724.1" cy="649.2" r="5.3"/></g><g fill="#F9706A"><circle cx="1724.1" cy="653" r="5.3"/></g><g fill="#53B400"><circle cx="1737.3" cy="654.2" r="5.3"/></g><g fill="#F9706A"><circle cx="1737.3" cy="646.7" r="5.3"/><circle cx="1737.3" cy="651.5" r="5.3"/><circle cx="1749.3" cy="645" r="5.3"/><circle cx="1749.3" cy="651" r="5.3"/></g><g fill="#2055A8"><circle cx="1762.5" cy="654.2" r="5.3"/></g><g fill="#F9706A"><circle cx="1762.5" cy="647.5" r="5.3"/><circle cx="1762.5" cy="651.5" r="5.3"/></g><g fill="#2055A8"><circle cx="1774.8" cy="654.2" r="5.3"/></g><g fill="#F9706A"><circle cx="1774.8" cy="645.5" r="5.3"/><circle cx="1774.8" cy="650.5" r="5.3"/></g><g fill="#2055A8"><circle cx="1786.1" cy="654.2" r="5.3"/></g><g fill="#F9706A"><circle cx="1786.1" cy="645.5" r="5.3"/><circle cx="1786.1" cy="651" r="5.3"/></g><g fill="#2055A8"><circle cx="1798.8" cy="654.2" r="5.3"/></g><g fill="#F9706A"><circle cx="1798.8" cy="645.5" r="5.3"/><circle cx="1798.8" cy="650.5" r="5.3"/></g><g fill="#2055A8"><circle cx="1811.4" cy="654.2" r="5.3"/><circle cx="1811.4" cy="640.7" r="5.3"/></g><g fill="#F9706A"><circle cx="1811.4" cy="646" r="5.3"/><circle cx="1811.4" cy="651" r="5.3"/></g><g fill="#2055A8"><circle cx="1823.9" cy="654.2" r="5.3"/></g><g fill="#F9706A"><circle cx="1823.9" cy="645.5" r="5.3"/><circle cx="1823.9" cy="651" r="5.3"/></g><g fill="#2055A8"><circle cx="1836.6" cy="654.2" r="5.3"/></g><g fill="#F9706A"><circle cx="1836.6" cy="645.5" r="5.3"/><circle cx="1836.6" cy="650.5" r="5.3"/></g><g fill="#2055A8"><circle cx="1849.2" cy="654.2" r="5.3"/><circle cx="1849.2" cy="639.8" r="5.3"/></g><g fill="#F9706A"><circle cx="1849.2" cy="646.5" r="5.3"/><circle cx="1849.2" cy="651.5" r="5.3"/></g><g fill="#2055A8"><circle cx="1861.8" cy="654.2" r="5.3"/><circle cx="1861.8" cy="640.8" r="5.3"/></g><g fill="#F9706A"><circle cx="1861.8" cy="647.5" r="5.3"/><circle cx="1861.8" cy="651.5" r="5.3"/></g><g fill="#2055A8"><circle cx="1873" cy="654.2" r="5.3"/></g><g fill="#F9706A"><circle cx="1873" cy="648.5" r="5.3"/><circle cx="1873" cy="652.5" r="5.3"/></g><g fill="#2055A8"><circle cx="1885.5" cy="654.2" r="5.3"/><circle cx="1885.5" cy="639.8" r="5.3"/></g><g fill="#F9706A"><circle cx="1885.5" cy="647.5" r="5.3"/><circle cx="1885.5" cy="651.5" r="5.3"/></g><g fill="#2055A8"><circle cx="1898.1" cy="654.2" r="5.3"/><circle cx="1898.1" cy="639.3" r="5.3"/></g><g fill="#F9706A"><circle cx="1898.1" cy="650.5" r="5.3"/><circle cx="1898.1" cy="646.2" r="5.3"/></g><g fill="#2055A8"><circle cx="1908.3" cy="654.2" r="5.3"/><circle cx="1908.3" cy="635.3" r="5.3"/></g><g fill="#F9706A"><circle cx="1908.3" cy="649.5" r="5.3"/><circle cx="1908.3" cy="652.2" r="5.3"/></g><g fill="#2055A8"><circle cx="1919.8" cy="654.2" r="5.3"/><circle cx="1919.8" cy="640.8" r="5.3"/></g><g fill="#F9706A"><circle cx="1919.8" cy="650.5" r="5.3"/><circle cx="1919.8" cy="652.2" r="5.3"/></g><g fill="#2055A8"><circle cx="1930.9" cy="654.2" r="5.3"/><circle cx="1930.9" cy="634.8" r="5.3"/></g><g fill="#F9706A"><circle cx="1930.9" cy="652.9" r="5.3"/></g><g fill="#2055A8"><circle cx="1942.1" cy="632.3" r="5.3"/><circle cx="1942.1" cy="647.2" r="5.3"/></g><g fill="#F9706A"><circle cx="1942.1" cy="652.2" r="5.3"/></g><g fill="#2055A8"><circle cx="1952.2" cy="654.2" r="5.3"/><circle cx="1952.2" cy="634.3" r="5.3"/></g><g fill="#F9706A"><circle cx="1952.2" cy="652.7" r="5.3"/></g><g fill="#2055A8"><circle cx="1962.2" cy="654.2" r="5.3"/><circle cx="1962.2" cy="634.3" r="5.3"/><circle cx="1962.2" cy="649.7" r="5.3"/><circle cx="1962.2" cy="644.9" r="5.3"/></g><g fill="#F9706A"><circle cx="1962.2" cy="652.9" r="5.3"/><circle cx="1971.9" cy="637.3" r="5.3"/></g><g fill="#2055A8"><circle cx="1971.9" cy="627.8" r="5.3"/><circle cx="1971.9" cy="649.7" r="5.3"/><circle cx="1971.9" cy="642.4" r="5.3"/></g><g fill="#F9706A"><circle cx="1971.9" cy="652.9" r="5.3"/></g><g fill="#2055A8"><circle cx="1981.9" cy="654.2" r="5.3"/></g><g fill="#F9706A"><circle cx="1981.9" cy="638.3" r="5.3"/></g><g fill="#2055A8"><circle cx="1981.9" cy="626.8" r="5.3"/><circle cx="1981.9" cy="649.7" r="5.3"/><circle cx="1981.9" cy="643.7" r="5.3"/><circle cx="1981.9" cy="652.2" r="5.3"/><circle cx="1991.5" cy="626.8" r="5.3"/><circle cx="1991.5" cy="649.7" r="5.3"/><circle cx="1991.5" cy="642.2" r="5.3"/><circle cx="1991.5" cy="652.7" r="5.3"/><circle cx="2001.7" cy="627.3" r="5.3"/><circle cx="2001.7" cy="649.7" r="5.3"/><circle cx="2001.7" cy="643.7" r="5.3"/><circle cx="2001.7" cy="652.9" r="5.3"/><circle cx="2011.7" cy="637.3" r="5.3"/><circle cx="2011.7" cy="646.7" r="5.3"/></g><g fill="#F9706A"><circle cx="2011.7" cy="652.4" r="5.3"/></g><g fill="#53B400"><circle cx="2021.8" cy="654.2" r="5.3"/></g><g fill="#2055A8"><circle cx="2021.8" cy="641.9" r="5.3"/></g><g fill="#F9706A"><circle cx="2021.8" cy="652.4" r="5.3"/></g>
<text x="1193.6" y="53.6" font-size="34.32" font-weight="bold">b</text>
<text x="1804.6" y="23.2" font-size="32.17" text-anchor="middle">*</text>
<text x="1365.8" y="303" font-size="23.79" font-style="italic" letter-spacing="0.32">Each color represents a</text>
<text x="1365.8" y="333.5" font-size="23.79" font-style="italic" letter-spacing="0.32">group of fragment ions</text>
<text x="1365.8" y="364" font-size="23.79" font-style="italic" letter-spacing="0.32">with the same elution shape</text>
<text transform="translate(1246 381) rotate(-90)" font-size="21.84" text-anchor="middle" letter-spacing="0.29">Intensity</text>
<text x="1395.1" y="703.3" font-size="20.96" text-anchor="middle" class="t" letter-spacing="0.28">80</text>
<text x="1570.4" y="703.3" font-size="20.96" text-anchor="middle" class="t" letter-spacing="0.28">90</text>
<text x="1745.7" y="703.3" font-size="20.96" text-anchor="middle" class="t" letter-spacing="0.28">100</text>
<text x="1920.6" y="703.3" font-size="20.96" text-anchor="middle" class="t" letter-spacing="0.28">110</text>
<text x="2095.5" y="703.3" font-size="20.96" text-anchor="middle" class="t" letter-spacing="0.28">120</text>
<text x="1724" y="750.3" font-size="22.33" text-anchor="middle" letter-spacing="0.30">Retention time (s)</text>
</g>
<g id="panel-c">
<text x="364.3" y="835.5" font-size="33.93" font-weight="bold">c</text>
<path d="M1749.5 761 L1749.5 846.4 L614.2 843.6 L614.2 932" fill="none" stroke="#4F4F4F" stroke-width="2.8" stroke-linejoin="miter"/>
<path d="M614.2 944 L609.7 930.5 L618.7 930.5 Z" fill="#4F4F4F"/>
<line x1="1419.9" y1="845.6" x2="1419.9" y2="934" stroke="#4F4F4F" stroke-width="2.8"/>
<path d="M1419.9 946 L1415.4 932.5 L1424.4 932.5 Z" fill="#4F4F4F"/>
<text x="636.9" y="889.6" font-size="22.33" letter-spacing="0.30">Generate an individual MS2 spectrum</text>
<text x="636.9" y="918.1" font-size="22.33" letter-spacing="0.30">for each coeluting compound</text>
<text x="1386.8" y="904.3" font-size="32.17" text-anchor="middle">*</text>
<text x="1437.6" y="890" font-size="23.4" letter-spacing="0.31">Remove contaminating signals</text>
<text x="1437.6" y="920.2" font-size="23.4" letter-spacing="0.31">from the MS2 spectra</text>
<line x1="430.3" y1="1290.9" x2="952.4" y2="1290.9" stroke="#EBEBEB" stroke-width="3"/>
<rect x="470.1" y="1287.6" width="3.8" height="4.4" fill="#000"/><rect x="482.2" y="1253.5" width="3.8" height="38.5" fill="#000"/><rect x="488.2" y="1283.6" width="3.8" height="8.4" fill="#000"/><rect x="494.2" y="1274.2" width="3.8" height="17.8" fill="#000"/><rect x="511.3" y="1285.6" width="3.8" height="6.4" fill="#000"/><rect x="571.1" y="1281.9" width="3.8" height="10.1" fill="#000"/><rect x="583.7" y="988.3" width="3.8" height="303.7" fill="#000"/><rect x="612.2" y="1281.9" width="3.8" height="10.1" fill="#000"/><rect x="718.9" y="1284.2" width="3.8" height="7.8" fill="#000"/>
<text x="513.5" y="1329.3" font-size="16.67" text-anchor="middle" class="t" letter-spacing="0.22">60</text><text x="631.5" y="1329.3" font-size="16.67" text-anchor="middle" class="t" letter-spacing="0.22">80</text><text x="749.5" y="1329.3" font-size="16.67" text-anchor="middle" class="t" letter-spacing="0.22">100</text><text x="867.5" y="1329.3" font-size="16.67" text-anchor="middle" class="t" letter-spacing="0.22">120</text>
<text x="695.4" y="1353.8" font-size="21.64" text-anchor="middle" letter-spacing="0.29">m/z</text>
<text transform="translate(410.5 1139.7) rotate(-90)" font-size="19.4" text-anchor="middle" letter-spacing="0.26">Intensity</text>
<line x1="432.3" y1="1714.3" x2="953.8" y2="1714.3" stroke="#EBEBEB" stroke-width="3"/>
<rect x="501.6" y="1571.4" width="3.8" height="144" fill="#000"/><rect x="507.9" y="1681.5" width="3.8" height="33.9" fill="#000"/><rect x="613.6" y="1711.5" width="3.8" height="3.9" fill="#000"/><rect x="857.9" y="1397.9" width="3.8" height="317.5" fill="#000"/>
<text x="513.5" y="1754.1" font-size="16.67" text-anchor="middle" class="t" letter-spacing="0.22">60</text><text x="631.5" y="1754.1" font-size="16.67" text-anchor="middle" class="t" letter-spacing="0.22">80</text><text x="749.5" y="1754.1" font-size="16.67" text-anchor="middle" class="t" letter-spacing="0.22">100</text><text x="867.5" y="1754.1" font-size="16.67" text-anchor="middle" class="t" letter-spacing="0.22">120</text>
<text x="697.7" y="1780" font-size="21.64" text-anchor="middle" letter-spacing="0.29">m/z</text>
<text transform="translate(412 1545) rotate(-90)" font-size="19.4" text-anchor="middle" letter-spacing="0.26">Intensity</text>
<line x1="1170.9" y1="1176" x2="1741.8" y2="1176" stroke="#EBEBEB" stroke-width="3"/>
<line x1="1172.9" y1="1383.6" x2="1744.2" y2="1383.6" stroke="#EBEBEB" stroke-width="3"/>
<rect x="1235.6" y="1087.7" width="3.6" height="88.3" fill="#000"/><rect x="1242.3" y="1156.3" width="3.6" height="19.7" fill="#000"/><rect x="1636.1" y="980.1" width="3.6" height="195.9" fill="#000"/><rect x="1235.6" y="1176" width="3.6" height="83.6" fill="#EC7A6E"/><rect x="1242.3" y="1176" width="3.6" height="20.1" fill="#EC7A6E"/><rect x="1636.1" y="1176" width="3.6" height="197.2" fill="#EC7A6E"/><rect x="1328.9" y="1176.5" width="3.6" height="33.9" fill="#2A5599"/><rect x="1361.3" y="1174.2" width="3.6" height="2.4" fill="#1A0508"/><line x1="1215.5" y1="1177.8" x2="1233" y2="1177.2" stroke="#2A5599" stroke-width="1.6" stroke-dasharray="3 2.5"/><rect x="1212.3" y="1162.1" width="22.4" height="25.9" fill="none" stroke="#3C3C3C" stroke-width="1.9" stroke-dasharray="4 4.6"/><rect x="1320.3" y="1130.5" width="22.4" height="104.3" fill="none" stroke="#3C3C3C" stroke-width="1.9" stroke-dasharray="4 4.6"/>
<text x="1196.9" y="995.8" font-size="20.67" letter-spacing="0.28">With MS2 deconvolution</text>
<text x="1195.9" y="1371.6" font-size="20.77" letter-spacing="0.28">Without MS2 deconvolution</text>
<text x="1251.1" y="1418" font-size="16.67" text-anchor="middle" class="t" letter-spacing="0.22">60</text><text x="1384.1" y="1418" font-size="16.67" text-anchor="middle" class="t" letter-spacing="0.22">80</text><text x="1516.9" y="1418" font-size="16.67" text-anchor="middle" class="t" letter-spacing="0.22">100</text><text x="1649.6" y="1418" font-size="16.67" text-anchor="middle" class="t" letter-spacing="0.22">120</text>
<text x="1447.7" y="1446.1" font-size="21.64" text-anchor="middle" letter-spacing="0.29">m/z</text>
<text transform="translate(1152 1174.3) rotate(-90)" font-size="19.4" text-anchor="middle" letter-spacing="0.26">Intensity</text>
</g>
</svg>
</body></html>
